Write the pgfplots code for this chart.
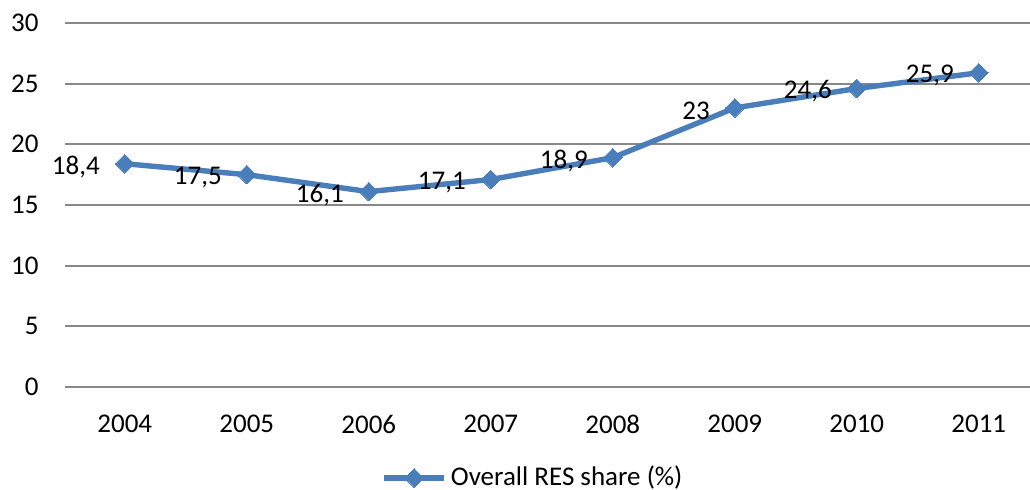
\documentclass[border=0pt]{standalone}
\usepackage{fontspec}
\setmainfont{Carlito}
\usepackage{pgfplots}
\pgfplotsset{compat=1.18}
\definecolor{serblue}{HTML}{4A7EBB}
\definecolor{gridgray}{HTML}{888888}
\newcommand{\chfont}{\fontsize{13.5}{15}\selectfont}
\begin{document}
\chfont
\begin{tikzpicture}[x=1pt,y=1pt]
\useasboundingbox (0,0) rectangle (515,245);
\begin{axis}[
  at={(32.5pt,51.5pt)}, anchor=south west,
  scale only axis, width=482.5pt, height=182pt,
  xmin=-0.49, xmax=7.42, ymin=0, ymax=30,
  ytick={0,5,...,30}, xtick={0,...,7},
  xticklabels={2004,2005,2006,2007,2008,2009,2010,2011},
  axis line style={draw=none}, major tick length=0pt,
  ymajorgrids, grid style={gridgray, line width=1pt},
  /pgf/number format/assume math mode=true,
  ticklabel style={font=\chfont, text=black},
  yticklabel style={xshift=-8.5pt},
  xticklabel style={yshift=-9.5pt},
  clip=false,
  legend style={draw=none, fill=none, at={(0.486,-0.25)}, anchor=center,
    font=\chfont, inner sep=0pt,
    /tikz/every even column/.style={column sep=0pt}},
  legend image code/.code={\draw[#1, mark repeat=2, mark phase=2] plot coordinates {(0pt,0pt) (15pt,0pt) (30pt,0pt)};},
]
\addplot[serblue, line width=2.7pt, mark=square*, mark size=3.3pt,
  mark options={rotate=45, solid, fill=serblue, draw=serblue, line width=0pt},
  point meta=explicit symbolic, nodes near coords,
  nodes near coords style={anchor=east, inner sep=0pt, xshift=-12.5pt, yshift=-1.5pt,
    font=\chfont, text=black}]
  table[meta=lab]{
x y lab
0 18.4 18,4
1 17.5 17,5
2 16.1 16,1
3 17.1 17,1
4 18.9 18,9
5 23.0 23
6 24.6 24,6
7 25.9 25,9
};
\addlegendentry{Overall RES share (\%)}
\end{axis}
\end{tikzpicture}
\end{document}
